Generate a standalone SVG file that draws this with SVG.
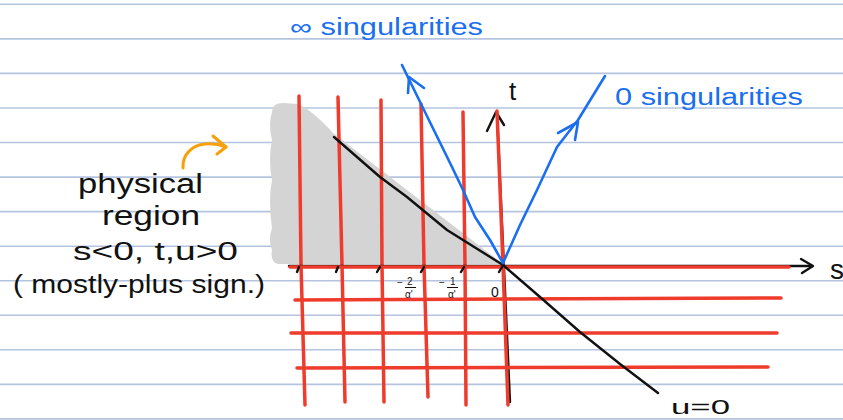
<svg xmlns="http://www.w3.org/2000/svg" width="843" height="420" viewBox="0 0 843 420">
<style>
.rule{stroke:#b4c4de;stroke-width:1.6}
.red{stroke:#ee3b2c;stroke-width:3.5;fill:none;stroke-linecap:round;stroke-linejoin:round}
.blk{stroke:#111;stroke-width:2.4;fill:none;stroke-linecap:round;stroke-linejoin:round}
.blue{stroke:#1a6ff0;stroke-width:2.6;fill:none;stroke-linecap:round;stroke-linejoin:round}
.org{stroke:#f6a10a;stroke-width:3;fill:none;stroke-linecap:round;stroke-linejoin:round}
.hand{font-family:"Liberation Sans","DejaVu Sans",sans-serif}
.tk{font-family:"Liberation Sans","DejaVu Sans",sans-serif;font-size:10px;fill:#111}
</style>
<rect width="843" height="420" fill="#ffffff"/>
<g id="ruled-paper">
<line class="rule" x1="0" y1="4.3" x2="843" y2="4.3"/>
<line class="rule" x1="0" y1="38.9" x2="843" y2="38.9"/>
<line class="rule" x1="0" y1="73.4" x2="843" y2="73.4"/>
<line class="rule" x1="0" y1="108" x2="843" y2="108"/>
<line class="rule" x1="0" y1="142.5" x2="843" y2="142.5"/>
<line class="rule" x1="0" y1="177.1" x2="843" y2="177.1"/>
<line class="rule" x1="0" y1="211.6" x2="843" y2="211.6"/>
<line class="rule" x1="0" y1="246.2" x2="843" y2="246.2"/>
<line class="rule" x1="0" y1="280.7" x2="843" y2="280.7"/>
<line class="rule" x1="0" y1="315.3" x2="843" y2="315.3"/>
<line class="rule" x1="0" y1="349.8" x2="843" y2="349.8"/>
<line class="rule" x1="0" y1="384.4" x2="843" y2="384.4"/>
<line class="rule" x1="0" y1="418.9" x2="843" y2="418.9"/>
</g>
<g id="physical-region-shading">
<path d="M272,112 Q272,103 283,103 L298,104 Q312,110 333,133 L503,264 L278,264 Q270,262 272,250 Q268,240 272,228 Q268,200 272,180 Q268,160 272,140 Q268,125 272,112 Z" fill="#d4d4d4"/>
</g>
<g id="connectors">
<path class="red" d="M299,96 L301,265 L305,405"/>
<path class="red" d="M338,97 L342,265 L345,402"/>
<path class="red" d="M381,100 L382,265 L384,402"/>
<path class="red" d="M421,104 L424,265 L428,397"/>
<path class="red" d="M463,112 L465,265 L466,405"/>
<path class="blk" d="M510,402 L504,268 L497,113"/>
<path class="blk" d="M487,131 L496,112 L504,125"/>
<path class="red" d="M497,111 L503,265 L508,405"/>
<path class="blk" d="M289,266 L812,266"/>
<path class="blk" d="M801,259 L813,266 L802,273"/>
<path class="red" d="M290,267 L789,267"/>
<path class="red" d="M295,300 L781,298"/>
<path class="red" d="M291,333 L777,333"/>
<path class="red" d="M297,368 L768,367"/>
<path class="blk" d="M297,272 L299,267 M336,272 L338,267 M377,272 L380,267 M421,272 L424,267 M461,272 L464,267 M499,272 L502,267" stroke-width="2"/>
<path class="blk" d="M334,137 L357,157 L380,177 L407,197 L447,230 L503,265 L540,297 L580,332 L620,364 L658,393"/>
<path class="blue" d="M503,263 L490,240 L475,217 L463,190 L452,167 L423,108 L402,65"/>
<path class="blue" d="M408,93 L409,77 L424,88"/>
<path class="blue" d="M503,263 L520,225 L537,190 L557,147 L578,120 L605,76"/>
<path class="blue" d="M558,133 L578,122 L575,140"/>
<path class="org" d="M183,168 C182,154 193,145 205,144 C214,143 221,145 226,147"/>
<path class="org" d="M213,136 L226,147 L217,154"/>
</g>
<g id="label-infinity-singularities">
<text class="hand" x="290" y="35" font-size="23" fill="#1a6ff0" textLength="193" lengthAdjust="spacingAndGlyphs">∞ singularities</text>
</g>
<g id="label-zero-singularities">
<text class="hand" x="615" y="105" font-size="23" fill="#1a6ff0" textLength="188" lengthAdjust="spacingAndGlyphs">0 singularities</text>
</g>
<g id="label-t">
<text class="hand" x="509" y="100" font-size="26" fill="#111">t</text>
</g>
<g id="label-s">
<text class="hand" x="830" y="279" font-size="28" fill="#111">s</text>
</g>
<g id="label-u0">
<text class="hand" x="671" y="414" font-size="20" fill="#111" textLength="59" lengthAdjust="spacingAndGlyphs">u=0</text>
</g>
<g id="label-physical-region">
<text class="hand" x="78" y="193" font-size="27" fill="#111" textLength="125" lengthAdjust="spacingAndGlyphs">physical</text>
<text class="hand" x="102" y="225" font-size="27" fill="#111" textLength="98" lengthAdjust="spacingAndGlyphs">region</text>
<text class="hand" x="73" y="260" font-size="25" fill="#111" textLength="165" lengthAdjust="spacingAndGlyphs">s&lt;0,  t,u&gt;0</text>
<text class="hand" x="13" y="293" font-size="25" fill="#111" textLength="252" lengthAdjust="spacingAndGlyphs">( mostly-plus sign.)</text>
</g>
<g id="tick-labels">
<text class="tk" x="397" y="286">−</text>
<text class="tk" x="407" y="285">2</text>
<line x1="405" y1="287.5" x2="416" y2="287.5" stroke="#111" stroke-width="1"/>
<text class="tk" x="405" y="298" font-size="9">α'</text>
<text class="tk" x="439" y="286">−</text>
<text class="tk" x="450" y="285">1</text>
<line x1="447" y1="287.5" x2="458" y2="287.5" stroke="#111" stroke-width="1"/>
<text class="tk" x="448" y="298" font-size="9">α'</text>
<text class="hand" x="491" y="297" font-size="14" fill="#111">0</text>
</g>
</svg>
